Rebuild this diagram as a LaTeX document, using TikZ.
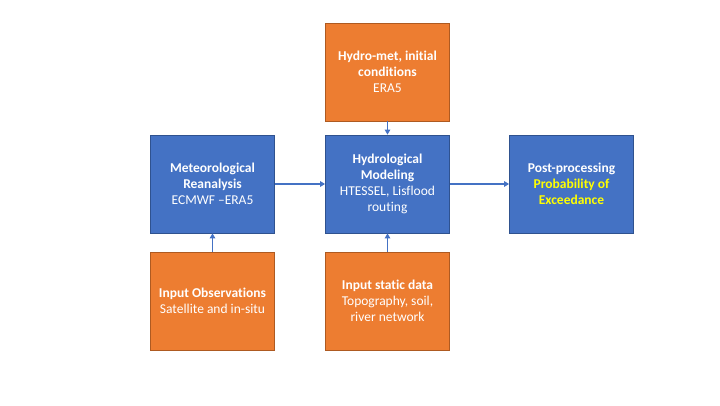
\documentclass[tikz,border=0pt]{standalone}
\usepackage{fontspec}
\setmainfont{Carlito}[Ligatures=NoCommon]
\usetikzlibrary{arrows.meta}
\definecolor{bfill}{HTML}{4472C4}
\definecolor{bline}{HTML}{2F528F}
\definecolor{ofill}{HTML}{ED7D31}
\definecolor{oline}{HTML}{AE5A21}
\definecolor{yel}{HTML}{FFFF00}
\tikzset{
  box/.style={rectangle, minimum width=124pt, minimum height=98pt, inner sep=2pt,
    text=white, align=center, font=\fontsize{13.5pt}{16pt}\selectfont, line width=0.8pt},
  bluebox/.style={box, fill=bfill, draw=bline},
  orangebox/.style={box, fill=ofill, draw=oline},
  conn/.style={draw=bfill, line width=1.3pt, -{Triangle[length=5pt,width=5.5pt]}}
}
\begin{document}
\begin{tikzpicture}[x=1pt,y=1pt]
\useasboundingbox (0,0) rectangle (720,405);
\node[orangebox] (top) at (387.5,333) {\textbf{Hydro-met, initial}\\\textbf{conditions}\\ERA5};
\node[bluebox] (met) at (212.5,221) {\textbf{Meteorological}\\\textbf{Reanalysis}\\ECMWF --ERA5};
\node[bluebox] (hyd) at (387.5,221) {\textbf{Hydrological}\\\textbf{Modeling}\\HTESSEL, Lisflood\\routing};
\node[bluebox] (post) at (571.5,221) {\textbf{Post-processing}\\\textcolor{yel}{\textbf{Probability of}}\\\textcolor{yel}{\textbf{Exceedance}}};
\node[orangebox] (obs) at (212.5,104) {\textbf{Input Observations}\\Satellite and in-situ};
\node[orangebox] (stat) at (387.5,104) {\textbf{Input static data}\\Topography, soil,\\river network};
\draw[conn] (top) -- (hyd);
\draw[conn] (met) -- (hyd);
\draw[conn] (hyd) -- (post);
\draw[conn] (obs) -- (met);
\draw[conn] (stat) -- (hyd);
\end{tikzpicture}
\end{document}
